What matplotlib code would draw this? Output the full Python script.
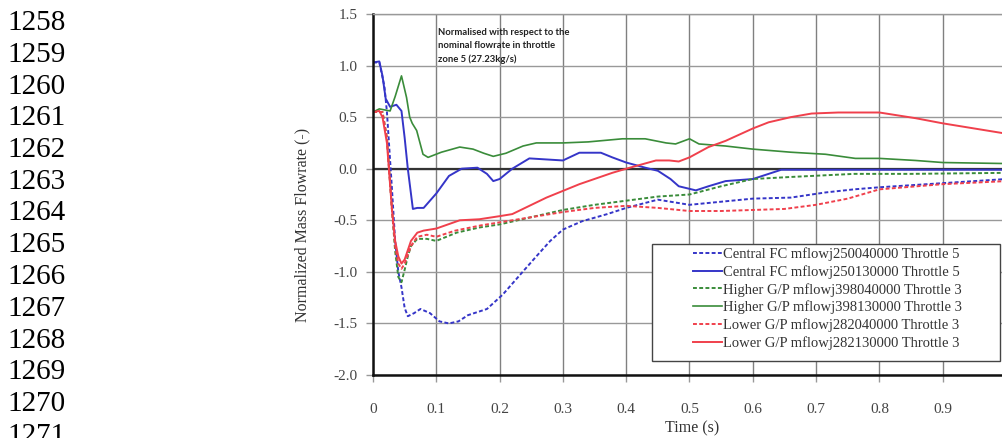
import matplotlib
matplotlib.use("Agg")
import matplotlib.pyplot as plt
from matplotlib.patches import Rectangle

# Mass flowrate transients, normalised by nominal throttle 5 flowrate
t_cfc_04 = [0, 0.01, 0.018, 0.022, 0.03, 0.035, 0.04, 0.045, 0.05, 0.055, 0.065, 0.075,
            0.09, 0.105, 0.12, 0.135, 0.15, 0.165, 0.18, 0.205, 0.235, 0.258, 0.28, 0.3,
            0.33, 0.37, 0.4, 0.45, 0.5, 0.55, 0.6, 0.66, 0.715, 0.76, 0.8, 0.9, 1.0]
v_cfc_04 = [1.03, 1.03, 0.8, 0.55, -0.2, -0.7, -1.0, -1.15, -1.35, -1.43, -1.40, -1.36,
            -1.40, -1.48, -1.50, -1.48, -1.42, -1.39, -1.36, -1.22, -1.01, -0.85, -0.70, -0.59,
            -0.51, -0.44, -0.38, -0.30, -0.35, -0.32, -0.29, -0.28, -0.23, -0.20, -0.18, -0.14, -0.10]

t_cfc_13 = [0, 0.01, 0.015, 0.02, 0.027, 0.037, 0.045, 0.05, 0.055, 0.063, 0.07, 0.08,
            0.1, 0.12, 0.14, 0.165, 0.18, 0.19, 0.2, 0.22, 0.247, 0.3, 0.326, 0.36, 0.378,
            0.4, 0.43, 0.45, 0.47, 0.483, 0.51, 0.53, 0.557, 0.6, 0.645, 0.7, 0.8, 0.9, 1.0]
v_cfc_13 = [1.03, 1.04, 0.9, 0.68, 0.6, 0.62, 0.56, 0.3, 0.0, -0.39, -0.38, -0.38,
            -0.24, -0.07, 0.0, 0.01, -0.05, -0.12, -0.10, 0.0, 0.10, 0.08, 0.155, 0.155, 0.11,
            0.06, 0.01, -0.02, -0.10, -0.17, -0.21, -0.17, -0.12, -0.10, -0.01, -0.01, -0.01, -0.01, -0.01]

t_hgp_04 = [0, 0.015, 0.022, 0.03, 0.035, 0.04, 0.045, 0.05, 0.055, 0.06, 0.07, 0.085,
            0.1, 0.132, 0.168, 0.2, 0.25, 0.3, 0.35, 0.4, 0.45, 0.5, 0.55, 0.6, 0.66, 0.76,
            0.85, 1.0]
v_hgp_04 = [0.55, 0.55, 0.3, -0.4, -0.8, -1.05, -1.1, -0.98, -0.85, -0.75, -0.68, -0.68,
            -0.70, -0.62, -0.57, -0.54, -0.47, -0.40, -0.35, -0.31, -0.27, -0.25, -0.17, -0.10,
            -0.08, -0.05, -0.05, -0.04]

t_hgp_13 = [0, 0.01, 0.027, 0.035, 0.045, 0.053, 0.058, 0.062, 0.069, 0.079, 0.087, 0.108,
            0.137, 0.158, 0.175, 0.19, 0.21, 0.237, 0.258, 0.3, 0.34, 0.394, 0.43, 0.463,
            0.478, 0.5, 0.515, 0.557, 0.6, 0.66, 0.715, 0.762, 0.8, 0.857, 0.9, 1.0]
v_hgp_13 = [0.55, 0.58, 0.56, 0.7, 0.9, 0.69, 0.5, 0.44, 0.37, 0.14, 0.11, 0.16,
            0.21, 0.19, 0.15, 0.12, 0.15, 0.22, 0.25, 0.25, 0.26, 0.29, 0.29, 0.25,
            0.24, 0.29, 0.24, 0.22, 0.19, 0.16, 0.14, 0.10, 0.10, 0.08, 0.06, 0.05]

t_lgp_04 = [0, 0.015, 0.022, 0.03, 0.035, 0.04, 0.045, 0.05, 0.06, 0.07, 0.085, 0.1,
            0.13, 0.17, 0.2, 0.25, 0.3, 0.35, 0.4, 0.45, 0.5, 0.55, 0.6, 0.65, 0.7, 0.75,
            0.8, 0.9, 1.0]
v_lgp_04 = [0.55, 0.55, 0.3, -0.4, -0.75, -0.92, -0.97, -0.92, -0.75, -0.66, -0.64, -0.66,
            -0.60, -0.55, -0.52, -0.47, -0.42, -0.38, -0.36, -0.38, -0.41, -0.41, -0.40, -0.39,
            -0.35, -0.29, -0.20, -0.15, -0.12]

t_lgp_13 = [0, 0.01, 0.015, 0.022, 0.03, 0.035, 0.04, 0.045, 0.05, 0.06, 0.07, 0.08,
            0.1, 0.137, 0.168, 0.2, 0.22, 0.274, 0.326, 0.378, 0.4, 0.447, 0.468, 0.483,
            0.5, 0.53, 0.557, 0.6, 0.625, 0.66, 0.693, 0.735, 0.8, 0.857, 0.9, 1.0]
v_lgp_13 = [0.55, 0.56, 0.5, 0.25, -0.4, -0.7, -0.85, -0.92, -0.88, -0.70, -0.62, -0.60,
            -0.58, -0.50, -0.49, -0.46, -0.44, -0.28, -0.15, -0.04, 0.0, 0.08, 0.08, 0.07,
            0.11, 0.21, 0.27, 0.39, 0.45, 0.50, 0.535, 0.545, 0.545, 0.49, 0.44, 0.34]

labels = ['Central FC mflowj250040000 Throttle 5',
          'Central FC mflowj250130000 Throttle 5',
          'Higher G/P mflowj398040000 Throttle 3',
          'Higher G/P mflowj398130000 Throttle 3',
          'Lower G/P mflowj282040000 Throttle 3',
          'Lower G/P mflowj282130000 Throttle 3']

x_ticks = [0, 0.1, 0.2, 0.3, 0.4, 0.5, 0.6, 0.7, 0.8, 0.9, 1.0]
x_tick_labels = ['0', '0.1', '0.2', '0.3', '0.4', '0.5', '0.6', '0.7', '0.8', '0.9', '']
y_ticks = [-2.0, -1.5, -1.0, -0.5, 0.0, 0.5, 1.0, 1.5]

line_numbers = list(range(1258, 1272))

serif = ['Liberation Serif', 'DejaVu Serif']
blue, green, red = '#3535c8', '#3a8c3a', '#f0404c'
dots = (0, (2.0, 1.2))

fig = plt.figure(figsize=(10.03, 4.38), dpi=100)
ax = fig.add_axes([373 / 1003, 63 / 438, 633 / 1003, 361 / 438])

ax.plot(t_cfc_04, v_cfc_04, color=blue, lw=1.4, ls=dots, label=labels[0])
ax.plot(t_cfc_13, v_cfc_13, color=blue, lw=1.4, label=labels[1])
ax.plot(t_hgp_04, v_hgp_04, color=green, lw=1.4, ls=dots, label=labels[2])
ax.plot(t_hgp_13, v_hgp_13, color=green, lw=1.2, label=labels[3])
ax.plot(t_lgp_04, v_lgp_04, color=red, lw=1.4, ls=dots, label=labels[4])
ax.plot(t_lgp_13, v_lgp_13, color=red, lw=1.4, label=labels[5])

ax.axhline(0, color='#333333', lw=1.6, zorder=1.5)

ax.set_xlim(0, 1.0)
ax.set_ylim(-2.0, 1.5)
ax.set_xticks(x_ticks)
ax.set_xticklabels(x_tick_labels)
ax.set_yticks(y_ticks)
ax.set_yticklabels(['%.1f' % v for v in y_ticks])
ax.grid(axis='x', color='#808080', lw=1.0)
ax.grid(axis='y', color='#999999', lw=1.0)
ax.set_axisbelow(True)

for side in ['left', 'bottom']:
    ax.spines[side].set_color('#111111')
    ax.spines[side].set_linewidth(1.8)
ax.spines['top'].set_color('#999999')
ax.spines['top'].set_linewidth(1.0)
ax.spines['right'].set_visible(False)

ax.tick_params(axis='both', direction='out', length=5, width=1, color='#999999',
               labelcolor='#444444', labelsize=11)
ax.tick_params(axis='x', pad=15)
ax.tick_params(axis='y', pad=6)
for lab in ax.get_xticklabels() + ax.get_yticklabels():
    lab.set_family(serif)

fig.text(302 / 1003, 1 - 225 / 438, 'Normalized Mass Flowrate (-)', rotation=90,
         ha='center', va='center', family=serif, fontsize=11.5, color='#333333')
fig.text(692 / 1003, 1 - 428 / 438, 'Time (s)', ha='center', va='center',
         family=serif, fontsize=11.5, color='#333333')

ax.text(0.103, 1.36, 'Normalised with respect to the\nnominal flowrate in throttle\nzone 5 (27.23kg/s)',
        family=['Lato', 'DejaVu Sans'], fontweight='bold', fontsize=6.8, color='#222222',
        va='top', ha='left', linespacing=1.55)

# legend box drawn separately so the frame can be wider than its entries
ax.add_patch(Rectangle((279 / 633, 14 / 361), 348 / 633, 117 / 361, transform=ax.transAxes,
                       facecolor='white', edgecolor='#444444', lw=1.0, zorder=4))
leg = ax.legend(loc='upper left', bbox_to_anchor=(320 / 633, 128 / 361), frameon=False,
                prop={'family': serif, 'size': 10.5}, handlelength=2.0, handletextpad=0.05,
                labelspacing=0.28, borderpad=0, borderaxespad=0)
leg.set_zorder(5)
for txt in leg.get_texts():
    txt.set_color('#333333')

for i, n in enumerate(line_numbers):
    fig.text(7 / 1003, 1 - (30 + 31.75 * i) / 438, str(n), family=serif, fontsize=21,
             ha='left', va='baseline', color='black')

fig.savefig('out.png', dpi=100)
